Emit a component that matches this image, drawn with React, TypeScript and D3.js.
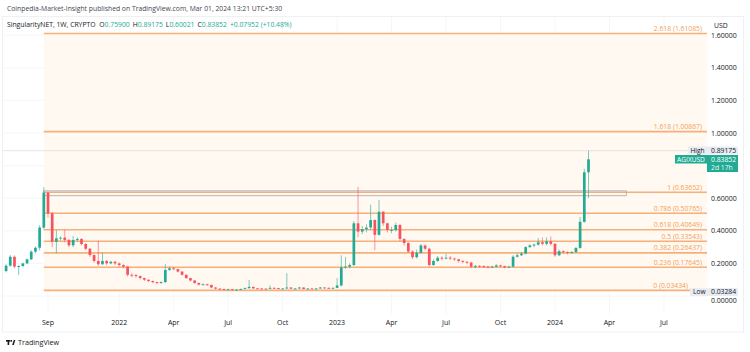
import React from "react";
import * as d3 from "d3";

// weekly candles, Jun 28 2021 .. Feb 26 2024 (open = previous close)
const firstOpen = 0.153;
const closes = [
  0.186, 0.241, 0.18, 0.184, 0.2, 0.225, 0.272, 0.296, 0.42, 0.634,
  0.507, 0.333, 0.354, 0.358, 0.344, 0.311, 0.344, 0.35, 0.319, 0.29,
  0.251, 0.215, 0.195, 0.215, 0.2, 0.21, 0.2, 0.19, 0.18, 0.13,
  0.128, 0.122, 0.11, 0.1, 0.092, 0.085, 0.08, 0.085, 0.16, 0.17,
  0.165, 0.15, 0.13, 0.11, 0.095, 0.08, 0.07, 0.072, 0.068, 0.052,
  0.045, 0.042, 0.04, 0.041, 0.038, 0.039, 0.043, 0.048, 0.056, 0.047,
  0.046, 0.045, 0.044, 0.05, 0.049, 0.044, 0.046, 0.052, 0.045, 0.046,
  0.052, 0.043, 0.046, 0.044, 0.046, 0.052, 0.05, 0.048, 0.05, 0.065,
  0.176, 0.18, 0.19, 0.446, 0.395, 0.41, 0.42, 0.466, 0.375, 0.517,
  0.446, 0.405, 0.405, 0.436, 0.35, 0.325, 0.273, 0.238, 0.265, 0.31,
  0.29, 0.19, 0.215, 0.235, 0.23, 0.235, 0.23, 0.225, 0.215, 0.21,
  0.205, 0.18, 0.185, 0.183, 0.18, 0.178, 0.18, 0.188, 0.183, 0.176,
  0.18, 0.241, 0.25, 0.26, 0.3, 0.31, 0.315, 0.33, 0.32, 0.335,
  0.32, 0.25, 0.275, 0.27, 0.265, 0.27, 0.295, 0.455, 0.759, 0.83852,
];
const highs = [
  0.195, 0.25, 0.25, 0.19, 0.205, 0.23, 0.28, 0.305, 0.435, 0.667,
  0.64, 0.515, 0.405, 0.365, 0.405, 0.35, 0.368, 0.36, 0.355, 0.325,
  0.295, 0.255, 0.34, 0.266, 0.22, 0.215, 0.215, 0.205, 0.195, 0.185,
  0.14, 0.135, 0.125, 0.112, 0.102, 0.095, 0.088, 0.09, 0.196, 0.18,
  0.178, 0.168, 0.152, 0.132, 0.112, 0.098, 0.082, 0.078, 0.075, 0.07,
  0.055, 0.048, 0.045, 0.045, 0.044, 0.042, 0.046, 0.052, 0.098, 0.058,
  0.05, 0.049, 0.047, 0.065, 0.053, 0.05, 0.049, 0.14, 0.054, 0.049,
  0.056, 0.053, 0.048, 0.048, 0.049, 0.056, 0.054, 0.052, 0.053, 0.11,
  0.25, 0.24, 0.2, 0.46, 0.67, 0.43, 0.44, 0.56, 0.47, 0.59,
  0.52, 0.45, 0.425, 0.45, 0.44, 0.355, 0.33, 0.28, 0.285, 0.32,
  0.315, 0.295, 0.225, 0.245, 0.245, 0.26, 0.245, 0.235, 0.228, 0.22,
  0.215, 0.21, 0.19, 0.19, 0.188, 0.185, 0.185, 0.195, 0.192, 0.186,
  0.186, 0.25, 0.262, 0.27, 0.305, 0.318, 0.322, 0.355, 0.36, 0.36,
  0.365, 0.325, 0.285, 0.28, 0.275, 0.275, 0.3, 0.485, 0.78, 0.89175,
];
const lows = [
  0.145, 0.18, 0.17, 0.129, 0.178, 0.195, 0.22, 0.26, 0.28, 0.41,
  0.48, 0.3, 0.262, 0.34, 0.33, 0.3, 0.3, 0.335, 0.31, 0.28,
  0.24, 0.205, 0.185, 0.19, 0.188, 0.195, 0.19, 0.18, 0.17, 0.12,
  0.115, 0.112, 0.102, 0.092, 0.085, 0.078, 0.073, 0.074, 0.08, 0.155,
  0.158, 0.145, 0.125, 0.105, 0.09, 0.075, 0.064, 0.066, 0.062, 0.048,
  0.04, 0.037, 0.035, 0.036, 0.034, 0.03284, 0.037, 0.042, 0.045, 0.043,
  0.042, 0.041, 0.04, 0.042, 0.045, 0.04, 0.042, 0.044, 0.041, 0.042,
  0.044, 0.04, 0.041, 0.04, 0.042, 0.044, 0.046, 0.044, 0.045, 0.047,
  0.058, 0.165, 0.17, 0.185, 0.36, 0.38, 0.39, 0.405, 0.28, 0.37,
  0.43, 0.39, 0.385, 0.395, 0.335, 0.31, 0.265, 0.225, 0.23, 0.26,
  0.28, 0.18, 0.185, 0.21, 0.22, 0.225, 0.22, 0.215, 0.205, 0.2,
  0.195, 0.17, 0.17, 0.175, 0.172, 0.17, 0.172, 0.175, 0.176, 0.17,
  0.172, 0.176, 0.235, 0.245, 0.255, 0.295, 0.3, 0.31, 0.31, 0.31,
  0.31, 0.24, 0.245, 0.26, 0.255, 0.26, 0.265, 0.29, 0.45, 0.60021,
];

const fibRatios = ["2.618", "1.618", "1", "0.786", "0.618", "0.5", "0.382", "0.236", "0"];
const fibPrices = [1.61085, 1.00867, 0.63652, 0.50765, 0.40649, 0.33543, 0.26437, 0.17645, 0.03434];

const priceTicks = [1.6, 1.4, 1.2, 1.0, 0.6, 0.4, 0.2];
const gridTicks = [0, 0.2, 0.4, 0.6, 0.8, 1.0, 1.2, 1.4, 1.6];

const timeTickMonths = [
  [2021, 8], [2022, 0], [2022, 3], [2022, 6], [2022, 9], [2023, 0],
  [2023, 3], [2023, 6], [2023, 9], [2024, 0], [2024, 3], [2024, 6],
];
const timeTickLabels = ["Sep", "2022", "Apr", "Jul", "Oct", "2023", "Apr", "Jul", "Oct", "2024", "Apr", "Jul"];

const GREEN = "#22ab94";
const RED = "#f7525f";
const FIB = "#f7b07a";
const FIB_TEXT = "#f4a056";
const FONT = "'Open Sans', 'Noto Sans', sans-serif";

export default function App() {
  const dates = d3.timeMonday.range(new Date(2021, 5, 28), new Date(2024, 2, 1));
  const x = d3.scaleTime().domain([dates[0], dates[dates.length - 1]]).range([6.1, 588.5]);
  const y = d3.scaleLinear().domain([0, 1.6]).range([296, 35.2]);
  const bodyW = 2.7;

  const candles = closes.map((c, i) => ({
    date: dates[i],
    open: i === 0 ? firstOpen : closes[i - 1],
    close: c,
    high: highs[i],
    low: lows[i],
  }));

  const fibX0 = x(dates[9]);
  const fibX1 = 707;
  const rectX1 = x(new Date(2024, 3, 29));
  const timeTicks = timeTickMonths.map(([yy, mm]) => d3.timeMonday.ceil(new Date(yy, mm, 1)));

  return (
    <svg width={750} height={352} style={{ position: "absolute", left: 0, top: 0, background: "#fff" }} fontFamily={FONT}>
      <rect x={0} y={0} width={750} height={352} fill="#fff" />
      <text x={7} y={11} fontSize={6.8} fill="#434651">
        Coinpedia-Market-Insight published on TradingView.com, Mar 01, 2024 13:21 UTC+5:30
      </text>
      <rect x={2.5} y={16.5} width={741} height={315.5} fill="none" stroke="#eef0f4" />

      {/* grid */}
      {gridTicks.map((t) => (
        <line key={"gy" + t} x1={3} x2={707} y1={y(t)} y2={y(t)} stroke="#f3f4f7" strokeWidth={0.8} />
      ))}
      {timeTicks.map((d, i) => (
        <line key={"gx" + i} x1={x(d)} x2={x(d)} y1={17} y2={314} stroke="#f3f4f7" strokeWidth={0.8} />
      ))}

      {/* fib background */}
      <rect x={fibX0} y={y(fibPrices[0])} width={fibX1 - fibX0} height={y(fibPrices[8]) - y(fibPrices[0])} fill="#fff9f2" />
      {fibPrices.map((p, i) => (
        <g key={"fib" + i}>
          <line x1={fibX0} x2={fibX1} y1={y(p)} y2={y(p)} stroke={FIB} strokeWidth={1.6} />
          <text x={i === 8 ? 688 : 702} y={y(p) - 2.6} fontSize={6.8} fill={FIB_TEXT} textAnchor="end">
            {`${fibRatios[i]} (${p.toFixed(5)})`}
          </text>
        </g>
      ))}
      <rect x={fibX0} y={y(0.645)} width={rectX1 - fibX0} height={y(0.615) - y(0.645)} fill="none" stroke="#a3a6af" strokeWidth={0.8} />

      {/* high line */}
      <line x1={3} x2={707} y1={y(0.89175)} y2={y(0.89175)} stroke="#dcdfe6" strokeWidth={0.8} />

      {/* candles */}
      {candles.map((c, i) => {
        const col = c.close >= c.open ? GREEN : RED;
        const cx = x(c.date);
        const top = y(Math.max(c.open, c.close));
        const bot = y(Math.min(c.open, c.close));
        return (
          <g key={"c" + i}>
            <line x1={cx} x2={cx} y1={y(c.high)} y2={y(c.low)} stroke={col} strokeWidth={0.8} opacity={0.75} />
            <rect x={cx - bodyW / 2} y={top} width={bodyW} height={Math.max(0.9, bot - top)} fill={col} />
          </g>
        );
      })}

      {/* legend */}
      <text x={7} y={27} fontSize={6.8} fill="#131722">
        <tspan>SingularityNET, 1W, CRYPTO </tspan>
        <tspan dx={2}>O</tspan><tspan fill={GREEN}>0.75900</tspan>
        <tspan dx={3}>H</tspan><tspan fill={GREEN}>0.89175</tspan>
        <tspan dx={3}>L</tspan><tspan fill={GREEN}>0.60021</tspan>
        <tspan dx={3}>C</tspan><tspan fill={GREEN}>0.83852</tspan>
        <tspan dx={3} fill={GREEN}>+0.07952 (+10.48%)</tspan>
      </text>

      {/* price axis */}
      <rect x={709} y={20} width={32} height={12} fill="#fff" />
      <text x={714} y={28} fontSize={6.8} fill="#131722">USD</text>
      {priceTicks.map((t) => (
        <text key={"pt" + t} x={711} y={y(t) + 2.5} fontSize={7} fill="#131722">
          {t.toFixed(5)}
        </text>
      ))}
      <text x={711} y={302.8} fontSize={7} fill="#131722">0.00000</text>

      <rect x={688} y={146.5} width={50} height={8} fill="#e9ecf2" />
      <text x={690.5} y={152.7} fontSize={6.6} fill="#131722">High</text>
      <text x={711} y={152.7} fontSize={6.8} fill="#131722">0.89175</text>

      <rect x={675} y={155} width={32} height={8.5} fill={GREEN} />
      <text x={691} y={161.5} fontSize={6.6} fill="#fff" textAnchor="middle">AGIXUSD</text>
      <rect x={707} y={155} width={31} height={17} fill={GREEN} />
      <text x={711} y={161.5} fontSize={6.8} fill="#fff">0.83852</text>
      <text x={711} y={170} fontSize={6.8} fill="#e6f5f2">2d 17h</text>

      <rect x={690} y={288} width={48} height={8} fill="#e9ecf2" />
      <text x={693} y={294.3} fontSize={6.6} fill="#131722">Low</text>
      <text x={711} y={294.3} fontSize={6.8} fill="#131722">0.03284</text>

      {/* time axis */}
      {timeTicks.map((d, i) => (
        <text key={"tt" + i} x={x(d)} y={325} fontSize={7} fill="#131722" textAnchor="middle">
          {timeTickLabels[i]}
        </text>
      ))}

      {/* TradingView logo */}
      <g fill="#131722">
        <rect x={6} y={340} width={4.2} height={1.6} />
        <rect x={7.6} y={340} width={1.6} height={5} />
        <circle cx={11.3} cy={340.9} r={0.9} />
        <path d="M12.2,345 L13.8,340 L15.3,340 L13.8,345 Z" />
      </g>
      <text x={18} y={345} fontSize={7.2} fill="#131722">TradingView</text>
    </svg>
  );
}
